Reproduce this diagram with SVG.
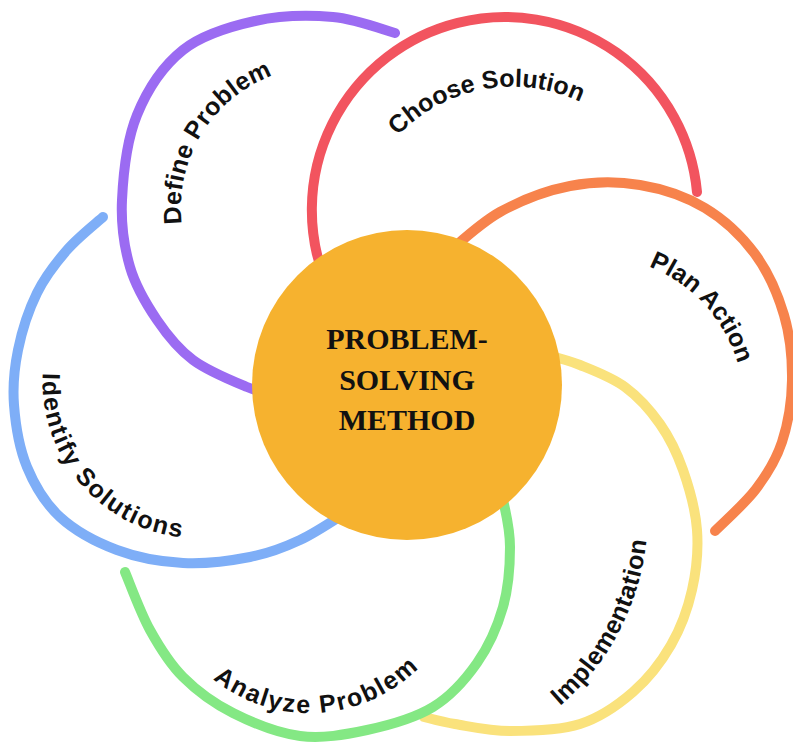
<svg xmlns="http://www.w3.org/2000/svg" width="793" height="746" viewBox="0 0 793 746">
  <style>
    .arc { fill: none; stroke-width: 10; stroke-linecap: round; stroke-linejoin: round; }
    .lbl { font-family: "Liberation Sans", Arial, sans-serif; font-weight: bold; font-size: 25px; fill: #111; }
    .core { font-family: "Liberation Serif", "Times New Roman", serif; font-weight: bold; font-size: 30px; fill: #111; text-anchor: middle; }
  </style>
  <defs>
    <path id="tp-define" d="M247.3,327.2 A141,141 0 0 1 394.7,86.8"/>
    <path id="tp-choose" d="M355.7,271.5 A159,159 0 0 1 668.3,213.5"/>
    <path id="tp-plan" d="M493.5,293.5 A151,151 0 0 1 697.5,516.1"/>
    <path id="tp-impl" d="M276.7,739.3 A254,254 0 0 0 511.3,288.7"/>
    <path id="tp-analyze" d="M156,571.3 A154,154 0 0 0 463.4,553.1"/>
    <path id="tp-identify" d="M97.7,261.8 A157,157 0 0 0 301.3,501"/>
  </defs>
  <rect width="793" height="746" fill="#ffffff"/>

  <g id="connectors">
    <path id="arc-define" class="arc" stroke="#9B6BF2" d="M395,33 C384.7,30.3 356.3,19 333,17 C309.7,15 280,15.5 255,21 C230,26.5 202.7,34.3 183,50 C163.3,65.7 147.2,90 137,115 C126.8,140 123.2,174.7 122,200 C120.8,225.3 124.2,247 130,267 C135.8,287 146.5,304.5 157,320 C167.5,335.5 178,348.8 193,360 C208,371.2 232.5,381 247,387 C261.5,393 274.5,394.5 280,396"/>
    <path id="arc-choose" class="arc" stroke="#F2545F" d="M327,285 A193,193 0 1 1 697,192"/>
    <path id="arc-plan" class="arc" stroke="#F7834C" d="M445,255 C454.2,247.8 479.2,223.5 500,212 C520.8,200.5 546.7,190.5 570,186 C593.3,181.5 617.5,181.3 640,185 C662.5,188.7 685.8,196.5 705,208 C724.2,219.5 741.8,236.2 755,254 C768.2,271.8 777.8,294 784,315 C790.2,336 792.3,358.8 792,380 C791.7,401.2 788,423.8 782,442 C776,460.2 767.2,474.2 756,489 C744.8,503.8 721.8,524 715,531"/>
    <path id="arc-impl" class="arc" stroke="#FAE27C" d="M540,353 C546.7,355 565.8,359.3 580,365 C594.2,370.7 611.7,377.2 625,387 C638.3,396.8 650.3,410.2 660,424 C669.7,437.8 676.8,452.3 683,470 C689.2,487.7 695.5,510 697,530 C698.5,550 696.3,570.8 692,590 C687.7,609.2 680.8,628 671,645 C661.2,662 648.2,678.8 633,692 C617.8,705.2 600.5,717.5 580,724 C559.5,730.5 530.8,731 510,731 C489.2,731 469.3,726.3 455,724 C440.7,721.7 429.2,718.2 424,717"/>
    <path id="arc-analyze" class="arc" stroke="#84E884" d="M125,572 C129.2,581.7 140.3,612.5 150,630 C159.7,647.5 169.2,663.2 183,677 C196.8,690.8 213.5,703.2 233,713 C252.5,722.8 277.7,733.2 300,736 C322.3,738.8 344.8,734.8 367,730 C389.2,725.2 414.7,718.2 433,707 C451.3,695.8 465.3,679.7 477,663 C488.7,646.3 497.5,626.3 503,607 C508.5,587.7 510,564.8 510,547 C510,529.2 506,512.8 503,500 C500,487.2 493.8,475 492,470"/>
    <path id="arc-identify" class="arc" stroke="#7EAEF7" d="M103,217 C97,222.5 78,237.3 67,250 C56,262.7 45.2,276.3 37,293 C28.8,309.7 21.8,331.3 18,350 C14.2,368.7 12.5,385.5 14,405 C15.5,424.5 19.3,448.3 27,467 C34.7,485.7 45,503.2 60,517 C75,530.8 96.5,542.3 117,550 C137.5,557.7 160.8,561.8 183,563 C205.2,564.2 230.5,560.8 250,557 C269.5,553.2 283.3,547.8 300,540 C316.7,532.2 341.7,515 350,510"/>
  </g>

  <g id="node-define">
    <text class="lbl" letter-spacing="0.3"><textPath href="#tp-define" startOffset="50%" text-anchor="middle">Define Problem</textPath></text>
  </g>
  <g id="node-choose">
    <text class="lbl"><textPath href="#tp-choose" startOffset="50%" text-anchor="middle">Choose Solution</textPath></text>
  </g>
  <g id="node-plan">
    <text class="lbl"><textPath href="#tp-plan" startOffset="50%" text-anchor="middle">Plan Action</textPath></text>
  </g>
  <g id="node-impl">
    <text class="lbl" letter-spacing="0.5"><textPath href="#tp-impl" startOffset="50%" text-anchor="middle">Implementation</textPath></text>
  </g>
  <g id="node-analyze">
    <text class="lbl" letter-spacing="1.7"><textPath href="#tp-analyze" startOffset="50%" text-anchor="middle">Analyze Problem</textPath></text>
  </g>
  <g id="node-identify">
    <text class="lbl" letter-spacing="1.6"><textPath href="#tp-identify" startOffset="50%" text-anchor="middle">Identify Solutions</textPath></text>
  </g>

  <g id="node-center">
    <circle cx="407" cy="385" r="155" fill="#F6B22F"/>
    <text class="core" x="407" y="349">PROBLEM-</text>
    <text class="core" x="407" y="390">SOLVING</text>
    <text class="core" x="407" y="430">METHOD</text>
  </g>
</svg>
